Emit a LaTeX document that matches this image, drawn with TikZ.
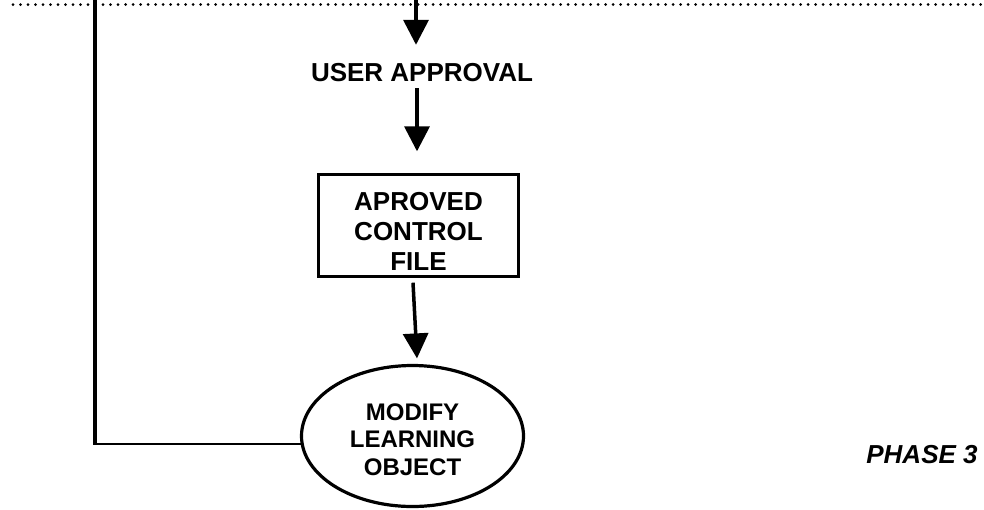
\documentclass[tikz,border=0pt]{standalone}
\usepackage{fontspec}
\setmainfont{Liberation Sans}
\usetikzlibrary{arrows.meta,shapes.geometric,calc}

\tikzset{
  x=1pt, y=1pt,
  lbl/.style={font=\bfseries\fontsize{26}{30}\selectfont, inner sep=0pt,
              text height=19pt, text depth=0pt},
  procbox/.style={draw, line width=3.4pt, minimum width=200pt, minimum height=102pt,
                  inner sep=0pt},
  boxtext/.style={inner sep=0pt, align=center,
                  font=\bfseries\fontsize{26}{30}\selectfont},
  task/.style={ellipse, draw, line width=3.2pt, minimum width=222pt, minimum height=141pt,
               inner sep=0pt},
  tasktext/.style={inner sep=0pt, align=center,
                   font=\bfseries\fontsize{24}{27.5}\selectfont},
  phaselbl/.style={font=\bfseries\itshape\fontsize{26}{30}\selectfont, inner sep=0pt},
  flow/.style={line width=3.5pt, -{Triangle[length=25pt,width=25pt]}},
  dotline/.style={line width=3pt, line cap=round, dash pattern=on 0pt off 7.5pt},
}

\begin{document}
\begin{tikzpicture}
  \useasboundingbox (0,0) rectangle (984,-509);

  % phase boundary
  \coordinate (dl) at (13,-4.5);
  \coordinate (dr) at (984,-4.5);
  \draw[dotline] (dl) -- (dr);

  % nodes
  \node[lbl] (approval) at (422,-71.5) {USER APPROVAL};
  \node[procbox] (box) at (418.5,-225.5) {};
  \node[boxtext] (boxlbl) at ($(box.center)+(0,-6)$) {APROVED\\CONTROL\\FILE};
  \node[task] (ell) at (412.5,-436) {};
  \node[tasktext] (elllbl) at ($(ell.center)+(0,-3.5)$) {MODIFY\\LEARNING\\OBJECT};
  \node[phaselbl] (phase) at (922,-454.5) {PHASE 3};

  % main flow
  \coordinate (in1) at (416,0);
  \draw[flow] (in1) -- ($(in1 |- approval.north)+(0,17)$);
  \draw[flow] ($(approval.south)+(-5,-7)$) -- ($(box.north)+(-1.5,21.5)$);
  \draw[flow] ($(box.south)+(-5.5,-4.5)$) -- ($(ell.north)+(4.5,5.5)$);

  % feedback loop back to the previous phase
  \coordinate (fbtop) at (95,0);
  \coordinate (fbcorner) at (ell.184 -| fbtop);
  \draw[line width=2pt] (ell.184) -- (fbcorner);
  \draw[line width=4pt] ($(fbcorner)+(0,-1)$) -- (fbtop);
\end{tikzpicture}
\end{document}
